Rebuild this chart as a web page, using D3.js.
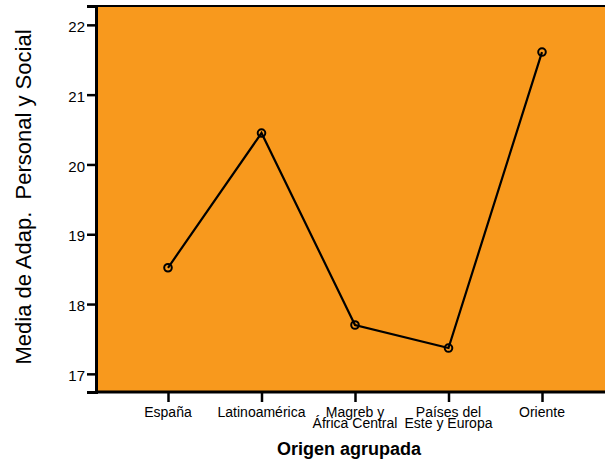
<!DOCTYPE html>
<html>
<head>
<meta charset="utf-8">
<script src="https://cdn.jsdelivr.net/npm/d3@7"></script>
<style>
  html, body { margin: 0; padding: 0; background: #fff; }
  svg { display: block; font-family: "Liberation Sans", Arial, sans-serif; }
</style>
</head>
<body>
<svg id="chart" width="605" height="461"></svg>
<script>
// Mean personal & social adaptation by grouped origin
const categories = [
  ["España"],
  ["Latinoamérica"],
  ["Magreb y", "África Central"],
  ["Países del", "Este y Europa"],
  ["Oriente"]
];
const means = [18.52, 20.45, 17.70, 17.37, 21.61];
const yTicks = [17, 18, 19, 20, 21, 22];

const svg = d3.select("#chart");
const plot = { left: 96, top: 6, right: 640, bottom: 392 };

const keys = categories.map(c => c.join(" "));
const x = d3.scalePoint().domain(keys).range([168, 542]);
const y = d3.scaleLinear().domain([16.74, 22.27]).range([plot.bottom, plot.top]);

// plot background
svg.append("rect")
  .attr("x", plot.left).attr("y", plot.top)
  .attr("width", plot.right - plot.left).attr("height", plot.bottom - plot.top)
  .attr("fill", "#f8991d")
  .attr("stroke", "#000").attr("stroke-width", 2);

// y axis
const yAxis = svg.append("g")
  .attr("transform", `translate(${plot.left},0)`)
  .call(d3.axisLeft(y).tickValues(yTicks).tickFormat(d3.format("d")).tickSize(9).tickPadding(2));
yAxis.select(".domain").attr("stroke", "#000").attr("stroke-width", 3);
yAxis.selectAll(".tick line").attr("stroke", "#000").attr("stroke-width", 2.5);
yAxis.selectAll(".tick text")
  .attr("font-size", 15).attr("fill", "#000")
  .attr("font-family", "Liberation Sans, Arial, sans-serif")
  .attr("dy", "0.45em");

// x axis
const xAxis = svg.append("g")
  .attr("transform", `translate(0,${plot.bottom})`)
  .call(d3.axisBottom(x).tickSize(10).tickFormat(""));
xAxis.select(".domain").attr("stroke", "#000").attr("stroke-width", 3)
  .attr("d", `M${plot.left},0H${plot.right}`);
xAxis.selectAll(".tick line").attr("stroke", "#000").attr("stroke-width", 2.5);

// multi-line category labels (lines set tightly)
categories.forEach((lines, i) => {
  const t = svg.append("text")
    .attr("x", x(keys[i]))
    .attr("y", 417)
    .attr("text-anchor", "middle")
    .attr("font-size", 14)
    .attr("fill", "#000");
  lines.forEach((ln, j) => {
    t.append("tspan").attr("x", x(keys[i])).attr("dy", j === 0 ? 0 : 10.5).text(ln);
  });
});

// axis titles
svg.append("text")
  .attr("x", 349).attr("y", 455)
  .attr("text-anchor", "middle")
  .attr("font-size", 18).attr("font-weight", "bold")
  .attr("fill", "#000")
  .text("Origen agrupada");

svg.append("text")
  .attr("transform", `translate(31,197) rotate(-90)`)
  .attr("text-anchor", "middle")
  .attr("font-size", 22)
  .attr("fill", "#000")
  .attr("xml:space", "preserve")
  .style("white-space", "pre")
  .text("Media de Adap.  Personal y Social");

// line and markers
const data = keys.map((k, i) => ({ k, v: means[i] }));
svg.append("path")
  .datum(data)
  .attr("fill", "none")
  .attr("stroke", "#000")
  .attr("stroke-width", 2.2)
  .attr("d", d3.line().x(d => x(d.k)).y(d => y(d.v)));

svg.selectAll("circle.pt")
  .data(data)
  .join("circle")
  .attr("class", "pt")
  .attr("cx", d => x(d.k))
  .attr("cy", d => y(d.v))
  .attr("r", 3.8)
  .attr("fill", "none")
  .attr("stroke", "#000")
  .attr("stroke-width", 2);
</script>
</body>
</html>
